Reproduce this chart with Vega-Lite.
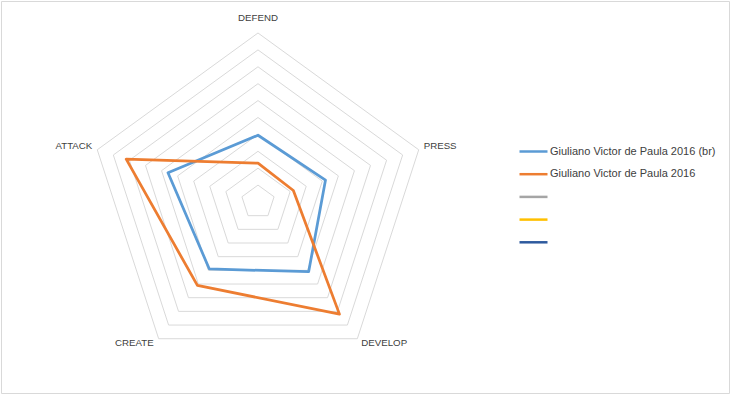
{
  "$schema": "https://vega.github.io/schema/vega-lite/v6.json",
  "autosize": "none",
  "width": 728,
  "height": 392,
  "padding": 1,
  "background": "white",
  "config": {
    "view": {"stroke": "#D9D9D9", "strokeWidth": 1},
    "font": "Liberation Sans"
  },
  "datasets": {
    "axes": [
      {"axis": "DEFEND", "k": 0, "levels": [1, 2, 3, 4, 5, 6, 7, 8, 9, 10]},
      {"axis": "PRESS", "k": 1, "levels": [1, 2, 3, 4, 5, 6, 7, 8, 9, 10]},
      {"axis": "DEVELOP", "k": 2, "levels": [1, 2, 3, 4, 5, 6, 7, 8, 9, 10]},
      {"axis": "CREATE", "k": 3, "levels": [1, 2, 3, 4, 5, 6, 7, 8, 9, 10]},
      {"axis": "ATTACK", "k": 4, "levels": [1, 2, 3, 4, 5, 6, 7, 8, 9, 10]}
    ],
    "scores": [
      {"player": "Giuliano Victor de Paula 2016 (br)", "axis": "DEFEND", "k": 0, "value": 3.95},
      {"player": "Giuliano Victor de Paula 2016 (br)", "axis": "PRESS", "k": 1, "value": 4.2},
      {"player": "Giuliano Victor de Paula 2016 (br)", "axis": "DEVELOP", "k": 2, "value": 5.1},
      {"player": "Giuliano Victor de Paula 2016 (br)", "axis": "CREATE", "k": 3, "value": 4.9},
      {"player": "Giuliano Victor de Paula 2016 (br)", "axis": "ATTACK", "k": 4, "value": 5.6},
      {"player": "Giuliano Victor de Paula 2016", "axis": "DEFEND", "k": 0, "value": 2.3},
      {"player": "Giuliano Victor de Paula 2016", "axis": "PRESS", "k": 1, "value": 2.2},
      {"player": "Giuliano Victor de Paula 2016", "axis": "DEVELOP", "k": 2, "value": 8.2},
      {"player": "Giuliano Victor de Paula 2016", "axis": "CREATE", "k": 3, "value": 6.1},
      {"player": "Giuliano Victor de Paula 2016", "axis": "ATTACK", "k": 4, "value": 8.2}
    ]
  },
  "resolve": {"scale": {"x": "shared", "y": "shared"}},
  "layer": [
    {
      "data": {"name": "axes"},
      "transform": [
        {"flatten": ["levels"], "as": ["level"]},
        {"calculate": "datum.level * sin(datum.k * 2 * PI / 5)", "as": "px"},
        {"calculate": "datum.level * cos(datum.k * 2 * PI / 5)", "as": "py"}
      ],
      "mark": {"type": "line", "interpolate": "linear-closed", "stroke": "#D9D9D9", "strokeWidth": 1},
      "encoding": {
        "x": {"field": "px", "type": "quantitative", "scale": {"domain": [-15.207, 27.87], "nice": false, "zero": false}, "axis": null},
        "y": {"field": "py", "type": "quantitative", "scale": {"domain": [-11.302, 11.893], "nice": false, "zero": false}, "axis": null},
        "detail": {"field": "level", "type": "nominal"},
        "order": {"field": "k", "type": "quantitative"}
      }
    },
    {
      "data": {"name": "scores"},
      "transform": [
        {"calculate": "datum.value * sin(datum.k * 2 * PI / 5)", "as": "px"},
        {"calculate": "datum.value * cos(datum.k * 2 * PI / 5)", "as": "py"}
      ],
      "mark": {"type": "line", "interpolate": "linear-closed", "strokeWidth": 2.75, "strokeJoin": "round"},
      "encoding": {
        "x": {"field": "px", "type": "quantitative", "axis": null},
        "y": {"field": "py", "type": "quantitative", "axis": null},
        "order": {"field": "k", "type": "quantitative"},
        "color": {
          "field": "player",
          "type": "nominal",
          "scale": {
            "domain": ["Giuliano Victor de Paula 2016 (br)", "Giuliano Victor de Paula 2016", "Series3", "Series4", "Series5"],
            "range": ["#5B9BD5", "#ED7D31", "#A5A5A5", "#FFC000", "#2E5A9E"]
          },
          "legend": {
            "title": null,
            "orient": "none",
            "legendX": 517,
            "legendY": 135,
            "symbolType": "stroke",
            "symbolSize": 784,
            "symbolStrokeWidth": 2.5,
            "labelFont": "Liberation Sans",
            "labelFontSize": 11,
            "labelColor": "#404040",
            "labelOffset": 1,
            "labelLimit": 400,
            "rowPadding": 1.7,
            "labelExpr": "indexof(datum.label, 'Series') == 0 ? '' : datum.label"
          }
        }
      }
    },
    {
      "data": {"name": "axes"},
      "transform": [
        {"filter": "datum.axis == 'DEFEND'"},
        {"calculate": "10 * sin(datum.k * 2 * PI / 5)", "as": "px"},
        {"calculate": "10 * cos(datum.k * 2 * PI / 5)", "as": "py"}
      ],
      "mark": {"type": "text", "align": "center", "baseline": "middle", "dy": -15, "fontSize": 9.7, "color": "#404040", "font": "Liberation Sans"},
      "encoding": {
        "x": {"field": "px", "type": "quantitative", "axis": null},
        "y": {"field": "py", "type": "quantitative", "axis": null},
        "text": {"field": "axis", "type": "nominal"}
      }
    },
    {
      "data": {"name": "axes"},
      "transform": [
        {"filter": "datum.axis == 'PRESS'"},
        {"calculate": "10 * sin(datum.k * 2 * PI / 5)", "as": "px"},
        {"calculate": "10 * cos(datum.k * 2 * PI / 5)", "as": "py"}
      ],
      "mark": {"type": "text", "align": "left", "baseline": "middle", "dx": 5, "dy": -4, "fontSize": 9.7, "color": "#404040", "font": "Liberation Sans"},
      "encoding": {
        "x": {"field": "px", "type": "quantitative", "axis": null},
        "y": {"field": "py", "type": "quantitative", "axis": null},
        "text": {"field": "axis", "type": "nominal"}
      }
    },
    {
      "data": {"name": "axes"},
      "transform": [
        {"filter": "datum.axis == 'DEVELOP'"},
        {"calculate": "10 * sin(datum.k * 2 * PI / 5)", "as": "px"},
        {"calculate": "10 * cos(datum.k * 2 * PI / 5)", "as": "py"}
      ],
      "mark": {"type": "text", "align": "left", "baseline": "middle", "dx": 4, "dy": 4, "fontSize": 9.7, "color": "#404040", "font": "Liberation Sans"},
      "encoding": {
        "x": {"field": "px", "type": "quantitative", "axis": null},
        "y": {"field": "py", "type": "quantitative", "axis": null},
        "text": {"field": "axis", "type": "nominal"}
      }
    },
    {
      "data": {"name": "axes"},
      "transform": [
        {"filter": "datum.axis == 'CREATE'"},
        {"calculate": "10 * sin(datum.k * 2 * PI / 5)", "as": "px"},
        {"calculate": "10 * cos(datum.k * 2 * PI / 5)", "as": "py"}
      ],
      "mark": {"type": "text", "align": "right", "baseline": "middle", "dx": -5, "dy": 4, "fontSize": 9.7, "color": "#404040", "font": "Liberation Sans"},
      "encoding": {
        "x": {"field": "px", "type": "quantitative", "axis": null},
        "y": {"field": "py", "type": "quantitative", "axis": null},
        "text": {"field": "axis", "type": "nominal"}
      }
    },
    {
      "data": {"name": "axes"},
      "transform": [
        {"filter": "datum.axis == 'ATTACK'"},
        {"calculate": "10 * sin(datum.k * 2 * PI / 5)", "as": "px"},
        {"calculate": "10 * cos(datum.k * 2 * PI / 5)", "as": "py"}
      ],
      "mark": {"type": "text", "align": "right", "baseline": "middle", "dx": -5, "dy": -4, "fontSize": 9.7, "color": "#404040", "font": "Liberation Sans"},
      "encoding": {
        "x": {"field": "px", "type": "quantitative", "axis": null},
        "y": {"field": "py", "type": "quantitative", "axis": null},
        "text": {"field": "axis", "type": "nominal"}
      }
    }
  ]
}
